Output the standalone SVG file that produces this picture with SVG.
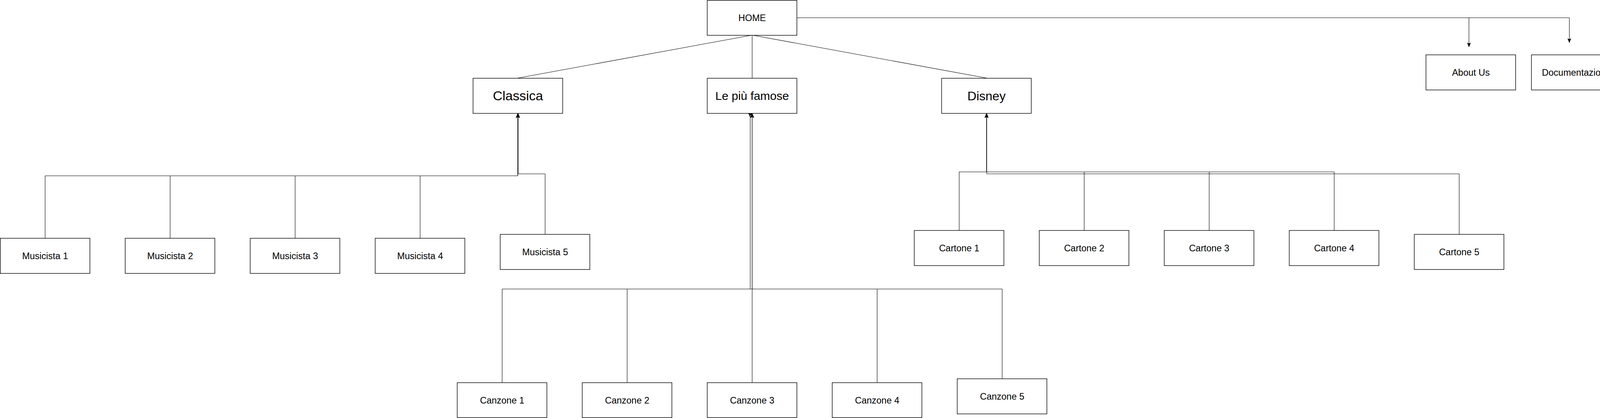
<svg xmlns="http://www.w3.org/2000/svg" width="4151" height="1071" viewBox="0 0 4151 1071">
<style>
.box{fill:#fff;stroke:#000;stroke-width:1.4}
.t{font-family:"Liberation Sans",Arial,Helvetica,sans-serif;fill:#000;text-anchor:middle}
.s{font-size:23.5px}
.e{fill:none;stroke:#000;stroke-width:1.1}
.a{marker-end:url(#arr)}
</style>
<defs>
<marker id="arr" markerUnits="userSpaceOnUse" markerWidth="12" markerHeight="12" viewBox="0 0 10 10" refX="9" refY="5" orient="auto">
<path d="M0,1 L10,5 L0,9 L2,5 z" fill="#000"/>
</marker>
</defs>
<rect width="4151" height="1071" fill="#fff"/>
<g id="connectors">
<path class="e" d="M1925.5,90 L1326,200"/>
<path class="e" d="M1925.5,90 V200"/>
<path class="e" d="M1925.5,90 L2525.5,200"/>
<path class="e a" d="M2040,45.5 H3760.5 V120"/>
<path class="e a" d="M2040,45.5 H4017.5 V109"/>
<path class="e a" d="M115.5,610 V450.5 H1325.5 V291"/>
<path class="e a" d="M435.5,610 V450.5 H1325.5 V291"/>
<path class="e a" d="M755.5,610 V450.5 H1325.5 V291"/>
<path class="e a" d="M1075.5,610 V450.5 H1325.5 V291"/>
<path class="e a" d="M1395.5,600 V445.5 H1326.5 V291"/>
<path class="e a" d="M2455.5,590 V440.5 H2525.5 V291"/>
<path class="e a" d="M2775.5,590 V440.5 H2525.5 V291"/>
<path class="e a" d="M3095.5,590 V440.5 H2525.5 V291"/>
<path class="e a" d="M3415.5,590 V440.5 H2525.5 V291"/>
<path class="e a" d="M3735.5,600 V445.5 H2526 V291"/>
<path class="e a" d="M1285.5,980 V740.5 H1925.5 V291"/>
<path class="e a" d="M1605.5,980 V740.5 H1920.5 V293 L1926,290.5"/>
<path class="e a" d="M1925.5,980 V291"/>
<path class="e a" d="M2245.5,980 V740.5 H1925.5 V291"/>
<path class="e a" d="M2565.5,970 V740.5 H1925.5 V291"/>
</g>
<g id="home"><rect class="box" x="1810.5" y="1" width="229.5" height="89.5"/><text class="t s" x="1925.5" y="53.5">HOME</text></g>
<g id="classica"><rect class="box" x="1211" y="200.5" width="229.5" height="90"/><text class="t" font-size="34" x="1326" y="257">Classica</text></g>
<g id="famose"><rect class="box" x="1810.5" y="200.5" width="229.5" height="90"/><text class="t" font-size="30" x="1925.5" y="256">Le più famose</text></g>
<g id="disney"><rect class="box" x="2410.5" y="200.5" width="229.5" height="90"/><text class="t" font-size="32" x="2525.5" y="256.5">Disney</text></g>
<g id="aboutus"><rect class="box" x="3650.5" y="140.5" width="229.5" height="90"/><text class="t s" x="3765.5" y="193.5">About Us</text></g>
<g id="documentazione"><rect class="box" x="3920.5" y="140.5" width="229.5" height="90"/><text class="t s" x="4035.5" y="193.5">Documentazione</text></g>
<g id="musicista1"><rect class="box" x="0.7" y="610.5" width="229.5" height="90"/><text class="t s" x="115.5" y="663.5">Musicista 1</text></g>
<g id="musicista2"><rect class="box" x="320.5" y="610.5" width="229.5" height="90"/><text class="t s" x="435.5" y="663.5">Musicista 2</text></g>
<g id="musicista3"><rect class="box" x="640.5" y="610.5" width="229.5" height="90"/><text class="t s" x="755.5" y="663.5">Musicista 3</text></g>
<g id="musicista4"><rect class="box" x="960.5" y="610.5" width="229.5" height="90"/><text class="t s" x="1075.5" y="663.5">Musicista 4</text></g>
<g id="musicista5"><rect class="box" x="1280.5" y="600.5" width="229.5" height="90"/><text class="t s" x="1395.5" y="653.5">Musicista 5</text></g>
<g id="cartone1"><rect class="box" x="2340.5" y="590.5" width="229.5" height="90"/><text class="t s" x="2455.5" y="643.5">Cartone 1</text></g>
<g id="cartone2"><rect class="box" x="2660.5" y="590.5" width="229.5" height="90"/><text class="t s" x="2775.5" y="643.5">Cartone 2</text></g>
<g id="cartone3"><rect class="box" x="2980.5" y="590.5" width="229.5" height="90"/><text class="t s" x="3095.5" y="643.5">Cartone 3</text></g>
<g id="cartone4"><rect class="box" x="3300.5" y="590.5" width="229.5" height="90"/><text class="t s" x="3415.5" y="643.5">Cartone 4</text></g>
<g id="cartone5"><rect class="box" x="3620.5" y="600.5" width="229.5" height="90"/><text class="t s" x="3735.5" y="653.5">Cartone 5</text></g>
<g id="canzone1"><rect class="box" x="1170.5" y="980.5" width="229.5" height="89.5"/><text class="t s" x="1285.5" y="1033.5">Canzone 1</text></g>
<g id="canzone2"><rect class="box" x="1490.5" y="980.5" width="229.5" height="89.5"/><text class="t s" x="1605.5" y="1033.5">Canzone 2</text></g>
<g id="canzone3"><rect class="box" x="1810.5" y="980.5" width="229.5" height="89.5"/><text class="t s" x="1925.5" y="1033.5">Canzone 3</text></g>
<g id="canzone4"><rect class="box" x="2130.5" y="980.5" width="229.5" height="89.5"/><text class="t s" x="2245.5" y="1033.5">Canzone 4</text></g>
<g id="canzone5"><rect class="box" x="2450.5" y="970.5" width="229.5" height="90"/><text class="t s" x="2565.5" y="1023.5">Canzone 5</text></g>
</svg>
